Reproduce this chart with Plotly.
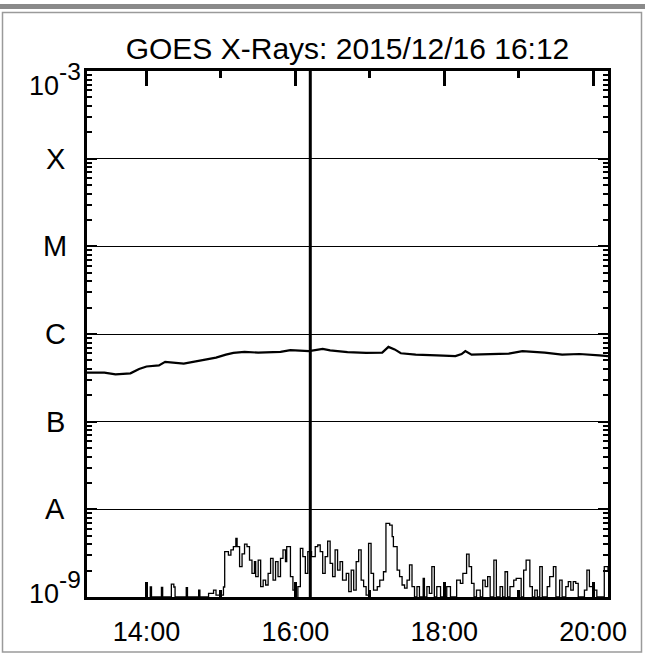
import math
import plotly.graph_objects as go

date = "2015-12-16"
title_text = "GOES X-Rays: 2015/12/16 16:12"
current_time = "16:12"
x_start, x_end = "13:12", "20:12"

# GOES long channel (1-8 A)
long_times = ["13:12", "13:26", "13:35", "13:47", "13:54", "14:00", "14:10", "14:15", "14:30",
              "14:38", "14:47", "14:56", "15:04", "15:10", "15:19", "15:30", "15:48", "15:56",
              "16:11", "16:22", "16:28", "16:42", "16:57", "17:10", "17:15", "17:20", "17:25",
              "17:37", "17:54", "18:09", "18:14", "18:17", "18:22", "18:37", "18:52", "19:03",
              "19:21", "19:35", "19:49", "20:05", "20:12"]
long_flux = [3.63e-7, 3.63e-7, 3.46e-7, 3.56e-7, 3.99e-7, 4.26e-7, 4.38e-7, 4.81e-7, 4.6e-7,
             4.81e-7, 5.06e-7, 5.38e-7, 5.81e-7, 6.09e-7, 6.25e-7, 6.13e-7, 6.25e-7, 6.55e-7,
             6.38e-7, 6.75e-7, 6.5e-7, 6.2e-7, 6.09e-7, 6.13e-7, 7.13e-7, 6.67e-7, 6.03e-7,
             5.81e-7, 5.7e-7, 5.6e-7, 5.91e-7, 6.38e-7, 5.81e-7, 5.91e-7, 5.98e-7, 6.38e-7,
             6.13e-7, 5.81e-7, 5.91e-7, 5.7e-7, 5.6e-7]

# GOES short channel (0.5-4 A)
short_times = ["13:12", "14:02", "14:03", "14:04", "14:11", "14:12", "14:13", "14:19", "14:20",
               "14:22", "14:23", "14:31", "14:32", "14:33", "14:41", "14:42", "14:43", "14:50",
               "14:54", "14:56", "15:02", "15:03", "15:06", "15:08", "15:10", "15:12", "15:13",
               "15:15", "15:17", "15:19", "15:21", "15:23", "15:25", "15:27", "15:28", "15:30",
               "15:32", "15:34", "15:36", "15:38", "15:40", "15:42", "15:44", "15:46", "15:48",
               "15:50", "15:52", "15:53", "15:56", "15:58", "16:00", "16:02", "16:04", "16:06",
               "16:08", "16:10", "16:13", "16:16", "16:18", "16:20", "16:22", "16:24", "16:26",
               "16:28", "16:30", "16:32", "16:34", "16:36", "16:38", "16:41", "16:43", "16:45",
               "16:47", "16:49", "16:51", "16:53", "16:55", "16:57", "16:59", "17:01", "17:03",
               "17:06", "17:08", "17:11", "17:13", "17:16", "17:18", "17:19", "17:22", "17:24",
               "17:26", "17:28", "17:30", "17:32", "17:34", "17:36", "17:38", "17:40", "17:43",
               "17:44", "17:46", "17:48", "17:50", "17:52", "17:54", "17:57", "18:02", "18:05",
               "18:07", "18:10", "18:13", "18:15", "18:18", "18:20", "18:22", "18:24", "18:26",
               "18:29", "18:31", "18:33", "18:35", "18:37", "18:40", "18:42", "18:45", "18:47",
               "18:49", "18:51", "18:53", "18:56", "18:58", "19:02", "19:04", "19:06", "19:09",
               "19:11", "19:13", "19:15", "19:17", "19:19", "19:23", "19:25", "19:28", "19:30",
               "19:33", "19:35", "19:38", "19:40", "19:42", "19:44", "19:46", "19:48", "19:51",
               "19:53", "19:55", "19:57", "20:01", "20:03", "20:05", "20:09", "20:12"]
short_flux = [9e-10, 9e-10, 1.3e-9, 1.0e-9, 1.0e-9, 1.29e-9, 1.0e-9, 1.0e-9, 1.4e-9,
              1.3e-9, 1.0e-9, 1.0e-9, 1.28e-9, 1.0e-9, 1.0e-9, 1.2e-9, 1.0e-9, 1.1e-9,
              1.2e-9, 1.05e-9, 1.3e-9, 3.29e-9, 3.0e-9, 3.44e-9, 3.75e-9, 4.67e-9, 3.75e-9,
              2.22e-9, 3.1e-9, 4.0e-9, 3.75e-9, 2.64e-9, 1.86e-9, 2.53e-9, 1.71e-9, 2.64e-9,
              1.31e-9, 1.56e-9, 1.37e-9, 1.86e-9, 2.76e-9, 1.56e-9, 2.53e-9, 1.71e-9, 2.76e-9,
              3.44e-9, 2.53e-9, 3.75e-9, 1.71e-9, 1.2e-9, 9e-10, 1.31e-9, 3.59e-9, 2.89e-9,
              1.86e-9, 3.29e-9, 2.89e-9, 3.75e-9, 3.92e-9, 3.29e-9, 1.86e-9, 2.89e-9, 4.35e-9,
              2.42e-9, 1.71e-9, 3.44e-9, 2.03e-9, 2.53e-9, 1.56e-9, 1.86e-9, 1.15e-9, 2.03e-9,
              1.2e-9, 2.53e-9, 3.44e-9, 1.56e-9, 1.31e-9, 1.05e-9, 4.09e-9, 1.86e-9, 1.2e-9,
              1.31e-9, 1.56e-9, 1.94e-9, 6.92e-9, 6.62e-9, 4.88e-9, 3.75e-9, 2.03e-9, 1.71e-9,
              1.37e-9, 1.26e-9, 1.56e-9, 2.32e-9, 1.31e-9, 1.0e-9, 1.31e-9, 1.0e-9, 1.63e-9,
              1.0e-9, 1.31e-9, 1.1e-9, 2.22e-9, 1.0e-9, 1.31e-9, 1.0e-9, 1.31e-9, 1.0e-9,
              1.0e-9, 1.56e-9, 1.43e-9, 1.86e-9, 3.09e-9, 2.22e-9, 1.43e-9, 1.0e-9, 1.2e-9,
              1.0e-9, 1.56e-9, 1.31e-9, 1.71e-9, 1.0e-9, 2.64e-9, 1.0e-9, 1.31e-9, 1.0e-9,
              1.94e-9, 1.0e-9, 1.31e-9, 1.56e-9, 1.63e-9, 1.0e-9, 2.03e-9, 2.64e-9, 1.31e-9,
              1.0e-9, 1.2e-9, 1.0e-9, 2.22e-9, 1.0e-9, 1.31e-9, 1.71e-9, 2.22e-9, 1.0e-9,
              1.56e-9, 1.0e-9, 1.31e-9, 1.5e-9, 1.2e-9, 1.5e-9, 1.43e-9, 1.0e-9, 1.0e-9,
              1.2e-9, 2.03e-9, 1.31e-9, 1.2e-9, 1.0e-9, 1.0e-9, 2.22e-9, 2.0e-9]

class_levels = [1e-9, 1e-8, 1e-7, 1e-6, 1e-5, 1e-4, 1e-3]
class_labels = ["<span style='font-size:27px'>10</span><sup>-9</sup>", "A", "B", "C", "M", "X",
                "<span style='font-size:27px'>10</span><sup>-3</sup>"]
major_hours = ["14:00", "16:00", "18:00", "20:00"]
minor_hours = ["15:00", "17:00", "19:00"]


def ts(t):
    return f"{date} {t}"


FONT = "Liberation Sans, Arial, Helvetica, sans-serif"
W, H = 645, 653
L, R, T, B = 87, 37, 71, 56
PW, PH = W - L - R, H - T - B

fig = go.Figure()
fig.add_trace(go.Scatter(x=[ts(t) for t in long_times], y=long_flux, mode="lines",
                         line=dict(color="black", width=2.2), showlegend=False))
fig.add_trace(go.Scatter(x=[ts(t) for t in short_times], y=short_flux, mode="lines",
                         line=dict(color="black", width=1.3, shape="hv"), showlegend=False))

# current-time marker
fig.add_shape(type="line", xref="x", yref="paper", x0=ts(current_time), x1=ts(current_time),
              y0=0, y1=1, line=dict(color="black", width=3))

minor_y = [k * lv for lv in class_levels[:-1] for k in range(2, 10)]

fig.update_xaxes(type="date", range=[ts(x_start), ts(x_end)], automargin=False,
                 tickvals=[ts(h) for h in major_hours], ticktext=major_hours,
                 ticks="inside", ticklen=15, tickwidth=3, tickcolor="black",
                 minor=dict(tickvals=[ts(h) for h in minor_hours], ticks="inside", ticklen=7,
                            tickwidth=3, tickcolor="black", showgrid=False),
                 showline=True, linewidth=3, linecolor="black", mirror="ticks",
                 showgrid=False, zeroline=False, ticklabelstandoff=9,
                 tickfont=dict(family=FONT, size=27, color="black"))
fig.update_yaxes(type="log", range=[-9, -3], tickvals=class_levels, showticklabels=False,
                 automargin=False,
                 ticks="inside", ticklen=10, tickwidth=2, tickcolor="black",
                 minor=dict(tickvals=minor_y, ticks="inside", ticklen=5, tickwidth=2,
                            tickcolor="black", showgrid=False),
                 showline=True, linewidth=3, linecolor="black", mirror="ticks",
                 showgrid=True, gridcolor="black", gridwidth=1, zeroline=False)

# class labels on the left
shifts = {0: 10, len(class_levels) - 1: -8}
for i, (lv, lab) in enumerate(zip(class_levels, class_labels)):
    sz = 35 if lab.startswith("<span") else 29
    fig.add_annotation(x=0, xref="paper", xshift=-32, xanchor="center",
                       y=math.log10(lv), yref="y", yshift=shifts.get(i, 0),
                       yanchor="middle", text=lab, showarrow=False,
                       font=dict(family=FONT, size=sz, color="black"))


# gray frame around the panel
def px_x(px):
    return (px - L) / PW


def px_y(py):
    return (H - B - py) / PH


fig.add_shape(type="rect", xref="paper", yref="paper", x0=px_x(0), x1=px_x(W),
              y0=px_y(9), y1=px_y(4), fillcolor="#8a8a8a", line=dict(width=0), layer="above")
fig.add_shape(type="rect", xref="paper", yref="paper", x0=px_x(2.5), x1=px_x(641.5),
              y0=px_y(652), y1=px_y(12.5), line=dict(color="#9a9a9a", width=1.5),
              fillcolor="rgba(0,0,0,0)", layer="above")

fig.update_layout(
    width=W, height=H, margin=dict(l=L, r=R, t=T, b=B, autoexpand=False),
    paper_bgcolor="white", plot_bgcolor="white",
    title=dict(text=title_text, x=(L + PW / 2) / W, xanchor="center",
               y=1 - 48 / H, yanchor="middle", automargin=False,
               font=dict(family=FONT, size=30, color="black")),
    showlegend=False,
)

fig.write_html("out.html", config={"displayModeBar": False},
               post_script="document.body.style.margin='0px';")
